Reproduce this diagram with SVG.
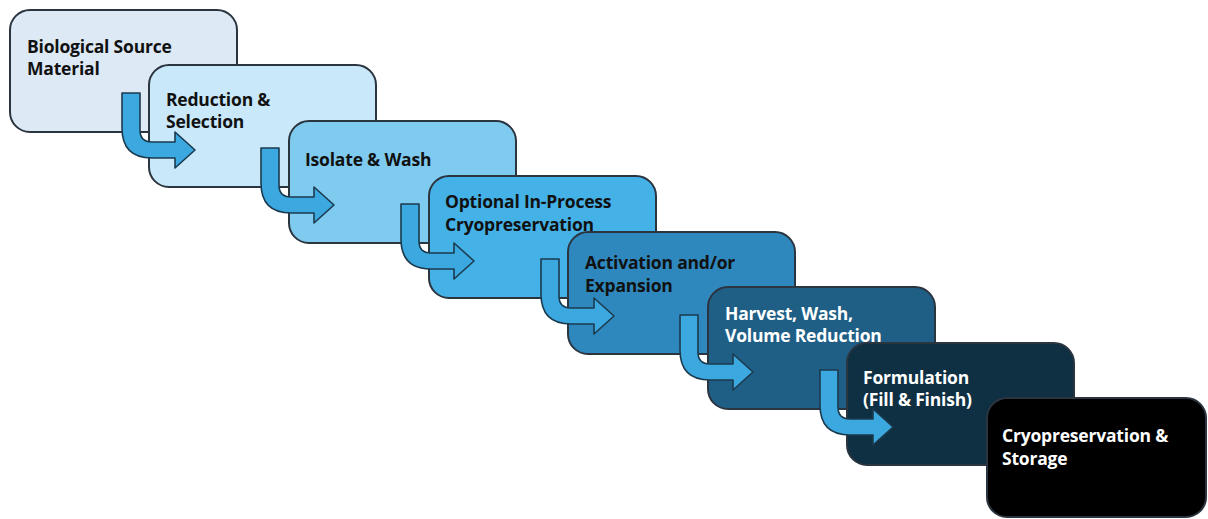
<svg xmlns="http://www.w3.org/2000/svg" xmlns:xlink="http://www.w3.org/1999/xlink" width="1208" height="519" viewBox="0 0 1208 519">
<style>
.box{stroke:#2b3540;stroke-width:2}
.t{font-family:"Open Sans","Liberation Sans",sans-serif;font-weight:700;font-size:17.5px;letter-spacing:-0.2px}
.dk{fill:#111}
.lt{fill:#fff}
.arr{fill:#3ba8e0;stroke:#1c3a4e;stroke-width:1.6;stroke-linejoin:round}
</style>
<defs>
<path id="bend" d="M112,83 L130,83 L130,120 Q130,132 142,132 L165,132 L165,122 L185,140 L165,158 L165,148 L142,148 Q112,148 112,118 Z"/>
</defs>
<rect width="1208" height="519" fill="#fff"/>
<g id="n1">
<rect class="box" x="10" y="10" width="227" height="122" rx="20" fill="#dde9f5"/>
<text class="t dk" x="27" y="53">Biological Source</text>
<text class="t dk" x="27" y="75">Material</text>
</g>
<g id="n2">
<rect class="box" x="149" y="65" width="227" height="122" rx="20" fill="#c9e8f9"/>
<text class="t dk" x="166" y="106">Reduction &amp;</text>
<text class="t dk" x="166" y="128">Selection</text>
</g>
<g class="connectors" id="c1"><use href="#bend" class="arr" transform="translate(10,10)"/></g>
<g id="n3">
<rect class="box" x="289" y="121" width="227" height="122" rx="20" fill="#7fcbef"/>
<text class="t dk" x="305" y="166">Isolate &amp; Wash</text>
</g>
<g class="connectors" id="c2"><use href="#bend" class="arr" transform="translate(149,65)"/></g>
<g id="n4">
<rect class="box" x="429" y="176" width="227" height="122" rx="20" fill="#45b2e7"/>
<text class="t dk" x="445" y="208">Optional In-Process</text>
<text class="t dk" x="445" y="231">Cryopreservation</text>
</g>
<g class="connectors" id="c3"><use href="#bend" class="arr" transform="translate(289,121)"/></g>
<g id="n5">
<rect class="box" x="568" y="232" width="227" height="122" rx="20" fill="#2f88bd"/>
<text class="t dk" x="585" y="269">Activation and/or</text>
<text class="t dk" x="585" y="292">Expansion</text>
</g>
<g class="connectors" id="c4"><use href="#bend" class="arr" transform="translate(429,176)"/></g>
<g id="n6">
<rect class="box" x="708" y="287" width="227" height="122" rx="20" fill="#1f5f86"/>
<text class="t lt" x="725" y="320">Harvest, Wash,</text>
<text class="t lt" x="725" y="342">Volume Reduction</text>
</g>
<g class="connectors" id="c5"><use href="#bend" class="arr" transform="translate(568,232)"/></g>
<g id="n7">
<rect class="box" x="847" y="343" width="227" height="122" rx="20" fill="#0f2f42"/>
<text class="t lt" x="863" y="384">Formulation</text>
<text class="t lt" x="863" y="406">(Fill &amp; Finish)</text>
</g>
<g class="connectors" id="c6"><use href="#bend" class="arr" transform="translate(708,287)"/></g>
<g id="n8">
<rect class="box" x="987" y="398" width="219" height="119" rx="20" fill="#000"/>
<text class="t lt" x="1002" y="442">Cryopreservation &amp;</text>
<text class="t lt" x="1002" y="465">Storage</text>
</g>
</svg>
